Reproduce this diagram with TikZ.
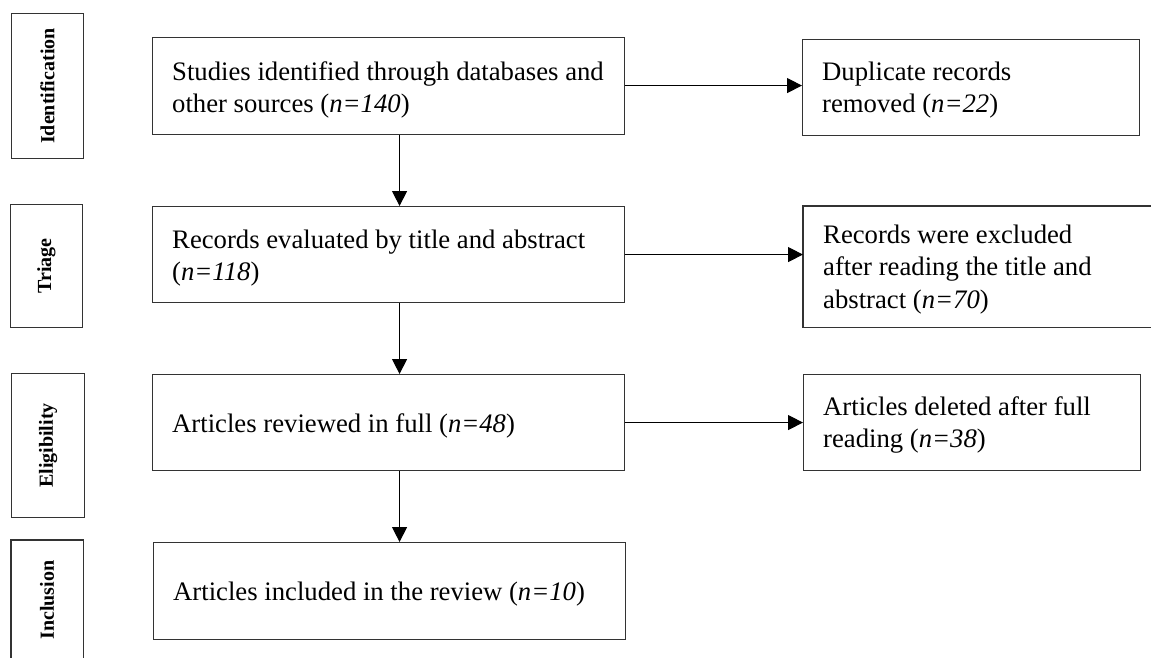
\documentclass[tikz,border=0pt]{standalone}
\usepackage{fontspec}
\setmainfont{Liberation Serif}
\usetikzlibrary{arrows.meta,calc}
\newcommand{\lns}[1]{\begin{tabular}[t]{@{}l@{}}#1\end{tabular}}
\begin{document}
\begin{tikzpicture}[x=1pt,y=-1pt,
  mainbox/.style={draw=black!80,line width=1.1pt,rectangle,anchor=north west,inner sep=0pt},
  txt/.style={anchor=base west,inner sep=0pt,font=\fontsize{26.7}{32.5}\selectfont},
  sidebox/.style={draw=black!80,line width=1.1pt,rectangle,anchor=north west,inner sep=0pt},
  sidelabel/.style={rotate=90,font=\fontsize{20}{24}\selectfont\bfseries},
  arr/.style={draw=black,line width=1.1pt,-{Triangle[length=15pt,width=15pt]}}]
\useasboundingbox[fill=white] (0,0) rectangle (1151,657);
% side stage boxes
\node[sidebox,minimum width=72pt,minimum height=145pt] (s1) at (11,13) {};
\node[sidelabel] (l1) at (s1.center) {Identification};
\node[sidebox,minimum width=72.5pt,minimum height=123pt] (s2) at (9.5,204) {};
\node[sidelabel] (l2) at (s2.center) {Triage};
\node[sidebox,minimum width=73pt,minimum height=144pt] (s3) at (11,373) {};
\node[sidelabel] (l3) at (s3.center) {Eligibility};
\node[rectangle,anchor=north west,inner sep=0pt,minimum width=72pt,minimum height=130pt] (s4) at (11,540) {};
\draw[draw=black!80,line width=1.1pt] (s4.south west) -- (s4.north west) -- (s4.north east) -- (s4.south east);
\node[sidelabel] (l4) at (11+36,600) {Inclusion};
% main boxes
\node[mainbox,minimum width=472pt,minimum height=97pt] (b1) at (152,37) {};
\node[txt] (t1) at (172,80) {\lns{Studies identified through databases and\\other sources (\textit{n=140})}};
\node[mainbox,minimum width=472pt,minimum height=96pt] (b2) at (152,206) {};
\node[txt] (t2) at (172,248) {\lns{Records evaluated by title and abstract\\(\textit{n=118})}};
\node[mainbox,minimum width=472pt,minimum height=96pt] (b3) at (152,374) {};
\node[txt] (t3) at (172,432) {Articles reviewed in full (\textit{n=48})};
\node[mainbox,minimum width=472pt,minimum height=97pt] (b4) at (153,542) {};
\node[txt] (t4) at (173,600) {Articles included in the review (\textit{n=10})};
% right boxes
\node[mainbox,minimum width=337pt,minimum height=96pt] (r1) at (802,39) {};
\node[txt] (u1) at (822,80) {\lns{Duplicate records\\removed (\textit{n=22})}};
\node[mainbox,draw=none,minimum width=360pt,minimum height=120pt] (r2) at (803,206) {};
\draw[draw=black!80,line width=1.1pt] (r2.north east) -- (r2.north west) -- (r2.south west) -- (r2.south east);
\node[txt] (u2) at (823,243) {\lns{Records were excluded\\after reading the title and\\abstract (\textit{n=70})}};
\node[mainbox,minimum width=337pt,minimum height=96pt] (r3) at (803,374) {};
\node[txt] (u3) at (823,415) {\lns{Articles deleted after full\\reading (\textit{n=38})}};
% connectors
\draw[arr] ([xshift=11pt]b1.south) -- ([xshift=11pt]b2.north);
\draw[arr] ([xshift=11pt]b2.south) -- ([xshift=11pt]b3.north);
\draw[arr] ([xshift=11pt]b3.south) -- ([xshift=11pt]b3.south |- b4.north);
\draw[arr] ([yshift=0.5pt]b1.east) -- ([yshift=0.5pt]b1.east -| r1.west);
\draw[arr] (b2.east) -- (b2.east -| r2.west);
\draw[arr] (b3.east) -- (b3.east -| r3.west);
\end{tikzpicture}
\end{document}
